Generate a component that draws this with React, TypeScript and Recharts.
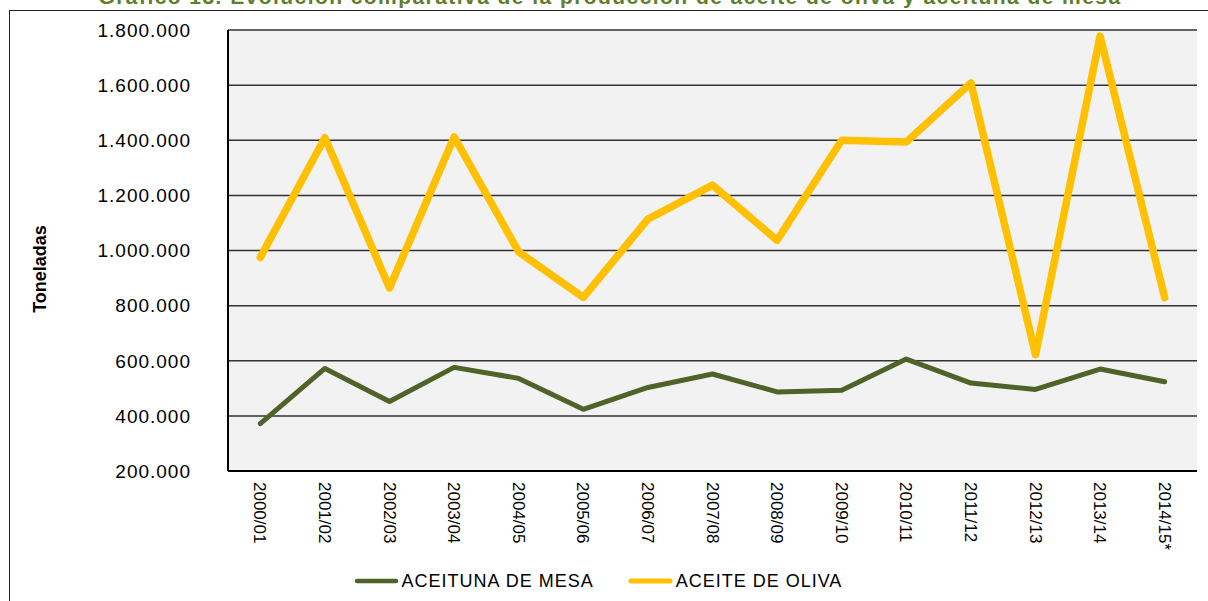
import React from 'react';
import { LineChart, Line, XAxis, YAxis, CartesianGrid, Legend } from 'recharts';

const campaigns = [
  '2000/01', '2001/02', '2002/03', '2003/04', '2004/05', '2005/06', '2006/07', '2007/08',
  '2008/09', '2009/10', '2010/11', '2011/12', '2012/13', '2013/14', '2014/15*',
];
const aceitunaMesa = [
  372000, 572000, 452000, 576000, 536000, 424000, 503000, 552000,
  487000, 493000, 606000, 519000, 496000, 570000, 524000,
];
const aceiteOliva = [
  975000, 1409000, 864000, 1412000, 995000, 830000, 1114000, 1237000,
  1037000, 1400000, 1394000, 1608000, 622000, 1778000, 829000,
];
const yTicks = [200000, 400000, 600000, 800000, 1000000, 1200000, 1400000, 1600000, 1800000];

const seriesNames = { mesa: 'ACEITUNA DE MESA', oliva: 'ACEITE DE OLIVA' };
const colors = { mesa: '#4F6228', oliva: '#FFC000' };

const data = campaigns.map((c, i) => ({ campaign: c, mesa: aceitunaMesa[i], oliva: aceiteOliva[i] }));

const FONT = '"Liberation Sans", Arial, sans-serif';

const fmt = (v: number) => String(v).replace(/\B(?=(\d{3})+(?!\d))/g, '.');

const XTick = (props: any) => {
  const { x, y, payload } = props;
  return (
    <text
      x={x}
      y={y}
      transform={`rotate(90, ${x}, ${y})`}
      textAnchor="start"
      dy="0.35em"
      fontSize={17}
      fontFamily={FONT}
      fill="#000"
    >
      {payload.value}
    </text>
  );
};

const YTick = (props: any) => {
  const { x, y, payload } = props;
  return (
    <text
      x={x}
      y={y}
      textAnchor="end"
      dy="0.36em"
      fontSize={19}
      letterSpacing={1}
      fontFamily={FONT}
      fill="#000"
    >
      {fmt(payload.value)}
    </text>
  );
};

const LegendContent = () => {
  const items: Array<'mesa' | 'oliva'> = ['mesa', 'oliva'];
  return (
    <div
      style={{
        height: 38,
        display: 'flex',
        justifyContent: 'center',
        alignItems: 'center',
        paddingRight: 12,
        paddingTop: 2,
        boxSizing: 'border-box',
        fontFamily: FONT,
      }}
    >
      {items.map((k, i) => (
        <div key={k} style={{ display: 'flex', alignItems: 'center', marginLeft: i === 0 ? 0 : 34 }}>
          <svg width={45} height={8} style={{ marginRight: 3 }}>
            <line x1={3} y1={4} x2={42} y2={4} stroke={colors[k]} strokeWidth={k === 'oliva' ? 5 : 4.5} strokeLinecap="round" />
          </svg>
          <span style={{ fontSize: 18, letterSpacing: 1, color: '#000', whiteSpace: 'nowrap' }}>{seriesNames[k]}</span>
        </div>
      ))}
    </div>
  );
};

export default function App() {
  return (
    <div style={{ position: 'absolute', left: 0, top: 0, width: 1208, height: 601, overflow: 'hidden', background: '#fff' }}>
      <div
        style={{
          position: 'absolute',
          left: 9,
          top: 10,
          width: 1300,
          height: 700,
          border: '1px solid #222',
        }}
      />
      <div
        style={{
          position: 'absolute',
          left: 0,
          width: 1208,
          top: -14,
          lineHeight: '22px',
          textAlign: 'center',
          fontFamily: FONT,
          fontWeight: 'bold',
          fontSize: 21,
          letterSpacing: 1.44,
          color: '#5F7D2A',
          whiteSpace: 'nowrap',
          paddingLeft: 12,
          boxSizing: 'border-box',
        }}
      >
        Gráfico 13. Evolución comparativa de la producción de aceite de oliva y aceituna de mesa
      </div>
      <div style={{ position: 'absolute', left: 0, top: 0 }}>
        <LineChart width={1208} height={601} data={data} margin={{ top: 30, right: 11, left: 10, bottom: 2 }}>
          <CartesianGrid vertical={false} stroke="#333" strokeWidth={1.5} fill="#F2F2F2" />
          <XAxis
            dataKey="campaign"
            interval={0}
            height={90}
            padding={{ left: 32.3, right: 32.3 }}
            tickSize={0}
            tickMargin={11}
            tick={<XTick />}
            axisLine={{ stroke: '#000', strokeWidth: 2 }}
            tickLine={false}
          />
          <YAxis
            width={218}
            domain={[200000, 1800000]}
            ticks={yTicks}
            tickSize={0}
            tickMargin={37}
            tick={<YTick />}
            axisLine={{ stroke: '#000', strokeWidth: 2 }}
            tickLine={false}
            label={(p: any) => {
              const vb = p.viewBox || { x: 10, y: 30, width: 218, height: 441 };
              const cx = 40;
              const cy = vb.y + vb.height / 2 + 18.5;
              return (
                <text
                  x={cx}
                  y={cy}
                  transform={`rotate(-90, ${cx}, ${cy})`}
                  textAnchor="middle"
                  dominantBaseline="central"
                  fontSize={18}
                  fontWeight="bold"
                  fontFamily={FONT}
                  fill="#000"
                >
                  Toneladas
                </text>
              );
            }}
          />
          <Legend verticalAlign="bottom" height={38} content={<LegendContent />} wrapperStyle={{ left: 0, width: 1208 }} />
          <Line
            type="linear"
            dataKey="mesa"
            name={seriesNames.mesa}
            stroke={colors.mesa}
            strokeWidth={5}
            dot={false}
            activeDot={false}
            strokeLinejoin="round"
            strokeLinecap="round"
            isAnimationActive={false}
          />
          <Line
            type="linear"
            dataKey="oliva"
            name={seriesNames.oliva}
            stroke={colors.oliva}
            strokeWidth={7.5}
            dot={false}
            activeDot={false}
            strokeLinejoin="round"
            strokeLinecap="round"
            isAnimationActive={false}
          />
        </LineChart>
      </div>
    </div>
  );
}
